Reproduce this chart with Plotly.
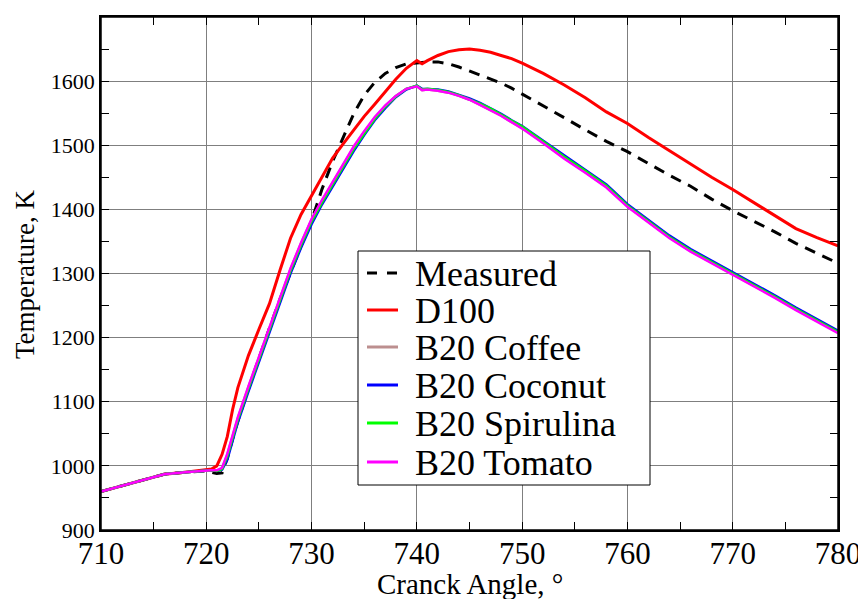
import plotly.graph_objects as go

theta = [710, 712, 714, 716, 718, 720, 720.5, 721, 721.5, 722, 722.5, 723, 724, 725, 726, 727,
         728, 729, 730, 731, 732, 733, 734, 735, 736, 737, 738, 739, 740, 740.5, 741, 742, 743,
         744, 745, 746, 747, 748, 749, 750, 752, 754, 756, 758, 760, 762, 764, 766, 768, 770,
         772, 774, 776, 778, 780]

measured = [960, 969, 979, 987, 990, 992, 990, 988, 989, 1012, 1042, 1070, 1120, 1168, 1215, 1260,
            1303, 1343, 1382, 1432, 1475, 1513, 1549, 1578, 1598, 1612, 1621, 1627, 1629, 1630, 1630, 1630, 1627,
            1622, 1616, 1609, 1603, 1597, 1589, 1580, 1562, 1543, 1524, 1506, 1490, 1471, 1453, 1436, 1416, 1398,
            1382, 1365, 1347, 1332, 1316]

d100 = [960, 969, 979, 987, 990, 994, 995, 1000, 1018, 1046, 1088, 1122, 1172, 1213, 1253, 1305,
        1355, 1392, 1422, 1452, 1480, 1502, 1523, 1545, 1564, 1583, 1603, 1620, 1632, 1627, 1632, 1640, 1646,
        1649, 1650, 1648, 1645, 1640, 1635, 1628, 1612, 1594, 1574, 1552, 1534, 1512, 1491, 1470, 1450, 1431,
        1411, 1391, 1370, 1356, 1343]

coffee = [960, 969, 979, 987, 990, 993, 993, 993, 996, 1018, 1047, 1075, 1123, 1169, 1215, 1261,
          1307, 1347, 1384, 1414, 1442, 1470, 1497, 1521, 1543, 1561, 1577, 1588, 1592, 1586, 1587, 1585, 1582,
          1577, 1571, 1563, 1555, 1546, 1536, 1527, 1504, 1480, 1458, 1435, 1405, 1380, 1356, 1335, 1317, 1300,
          1281, 1263, 1244, 1226, 1208]

coconut = [960, 969, 979, 987, 990, 993, 993, 992, 994, 1010, 1040, 1068, 1116, 1162, 1208, 1254,
           1300, 1340, 1377, 1408, 1436, 1464, 1491, 1516, 1539, 1558, 1575, 1587, 1593, 1588, 1588, 1587, 1584,
           1579, 1573, 1566, 1558, 1549, 1539, 1530, 1507, 1484, 1462, 1439, 1408, 1383, 1359, 1338, 1320, 1303,
           1284, 1266, 1247, 1229, 1211]

spirulina = [960, 969, 979, 987, 990, 993, 993, 992, 995, 1015, 1044, 1072, 1120, 1166, 1212, 1258,
             1304, 1344, 1381, 1411, 1439, 1467, 1494, 1518, 1541, 1560, 1576, 1588, 1593, 1587, 1588, 1586, 1583,
             1578, 1572, 1565, 1557, 1548, 1538, 1529, 1506, 1482, 1460, 1437, 1406, 1381, 1357, 1336, 1318, 1301,
             1282, 1264, 1245, 1227, 1209]

tomato = [960, 969, 979, 987, 990, 993, 993, 993, 997, 1019, 1048, 1076, 1124, 1170, 1217, 1262,
          1308, 1348, 1385, 1415, 1443, 1471, 1498, 1522, 1544, 1562, 1577, 1588, 1592, 1586, 1587, 1585, 1582,
          1577, 1571, 1563, 1555, 1546, 1536, 1526, 1503, 1479, 1457, 1434, 1404, 1379, 1355, 1334, 1316, 1299,
          1280, 1262, 1243, 1225, 1207]

series_names = ["Measured", "D100", "B20 Coffee", "B20 Coconut", "B20 Spirulina", "B20 Tomato"]
series_values = [measured, d100, coffee, coconut, spirulina, tomato]
series_colors = ["#000000", "#FF0000", "#BC8F8F", "#0000FF", "#00FF00", "#FF00FF"]
series_dash = ["11px,8px", "solid", "solid", "solid", "solid", "solid"]
series_width = [3, 3, 2.5, 2.5, 2.5, 2.5]

x_ticks = [710, 720, 730, 740, 750, 760, 770, 780]
y_ticks = [900, 1000, 1100, 1200, 1300, 1400, 1500, 1600, 1700]

FONT = "Liberation Serif"
PAGE_OFFSET = 8  # default body margin of the html page
W, H = 866 - PAGE_OFFSET, 599 - PAGE_OFFSET
ML, MR, MT, MB = 101 - PAGE_OFFSET, 28, 17 - PAGE_OFFSET, 69
PW, PH = W - ML - MR, H - MT - MB
PLOT_LEFT, PLOT_BOTTOM = 101, 530  # in screen pixels


def px(x):
    return (x - PLOT_LEFT) / PW


def py(y):
    return (PLOT_BOTTOM - y) / PH


fig = go.Figure()
for name, vals, col, dash, w in zip(series_names, series_values, series_colors, series_dash, series_width):
    fig.add_trace(go.Scatter(x=theta, y=vals, mode="lines", name=name, showlegend=False,
                             line=dict(color=col, dash=dash, width=w)))

axis_common = dict(
    showline=True, linecolor="black", linewidth=1.5, mirror="allticks",
    ticks="inside", ticklen=8, tickcolor="black", tickwidth=1,
    showgrid=True, gridcolor="#7f7f7f", gridwidth=1, zeroline=False, automargin=False,
)

fig.update_xaxes(range=[710, 780], tickvals=x_ticks, ticktext=[str(v) for v in x_ticks],
                 minor=dict(dtick=5, ticks="inside", ticklen=8, tickcolor="black", showgrid=False),
                 tickfont=dict(family=FONT, size=31, color="black"),
                 **axis_common)
fig.update_yaxes(range=[900, 1700], tickvals=y_ticks, ticktext=[str(v) for v in y_ticks],
                 minor=dict(dtick=50, ticks="inside", ticklen=8, tickcolor="black", showgrid=False),
                 tickfont=dict(family=FONT, size=22, color="black"),
                 **axis_common)
try:
    fig.update_xaxes(ticklabelstandoff=-5)
except Exception:
    pass

annotations = [
    dict(text="Cranck Angle, °", x=0.5, y=py(584), xref="paper", yref="paper",
         xanchor="center", yanchor="middle", showarrow=False,
         font=dict(family=FONT, size=29, color="black")),
    dict(text="Temperature, K", x=px(25), y=py(274), xref="paper", yref="paper",
         xanchor="center", yanchor="middle", showarrow=False, textangle=-90,
         font=dict(family=FONT, size=27, color="black")),
]

# Plot frame
shapes = [dict(type="rect", xref="paper", yref="paper", x0=0, x1=1, y0=0, y1=1,
               line=dict(color="black", width=1.5), layer="above")]

# Legend drawn as a framed box with sample lines and labels
shapes.append(dict(type="rect", xref="paper", yref="paper", x0=px(358), x1=px(650), y0=py(251), y1=py(485),
                   line=dict(color="black", width=1), fillcolor="white", layer="above"))
row_y = [273, 310, 347, 385, 423, 462]
for name, col, dash, yy in zip(series_names, series_colors, series_dash, row_y):
    shapes.append(dict(type="line", xref="paper", yref="paper", x0=px(367), x1=px(398),
                       y0=py(yy), y1=py(yy), layer="above",
                       line=dict(color=col, width=3, dash="10px,10px" if dash != "solid" else "solid")))
    annotations.append(dict(text=name, x=px(413), y=py(yy + 1), xref="paper", yref="paper",
                            xanchor="left", yanchor="middle", showarrow=False,
                            font=dict(family=FONT, size=36, color="black")))

fig.update_layout(
    width=W, height=H,
    margin=dict(l=ML, r=MR, t=MT, b=MB),
    paper_bgcolor="white", plot_bgcolor="white",
    font=dict(family=FONT, color="black"),
    showlegend=False,
    shapes=shapes,
    annotations=annotations,
)

fig.write_html("out.html")
